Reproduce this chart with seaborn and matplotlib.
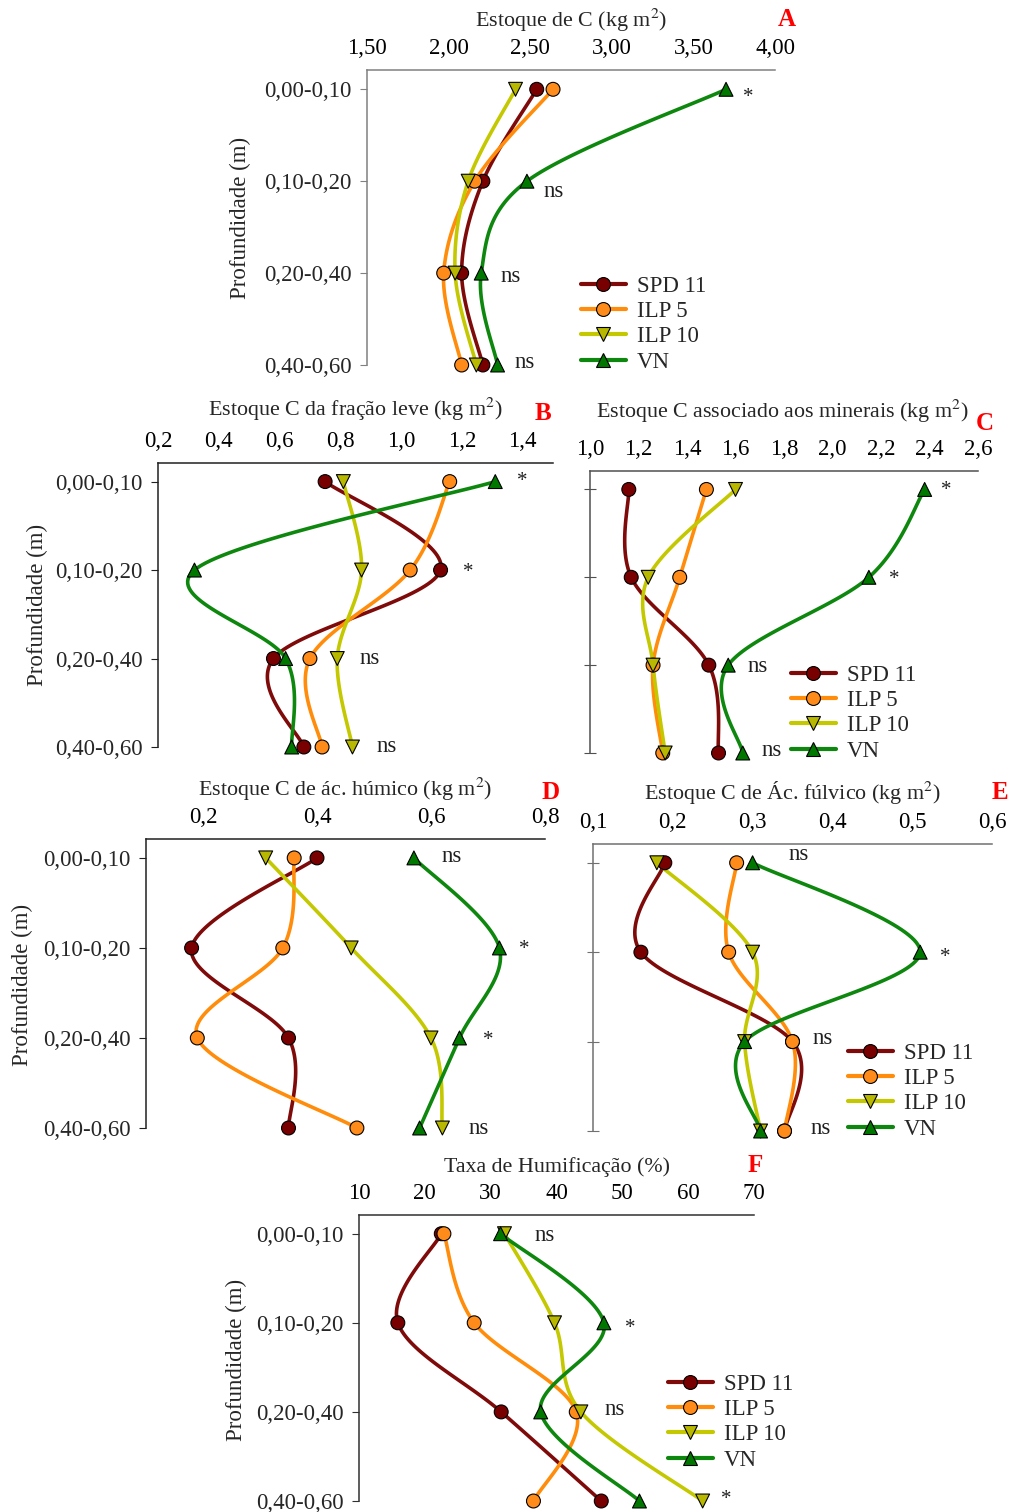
import numpy as np
import pandas as pd
import matplotlib.pyplot as plt
import seaborn as sns
from matplotlib.lines import Line2D

# Depth layers and management systems
depths = ['0,00-0,10', '0,10-0,20', '0,20-0,40', '0,40-0,60']
systems = ['SPD 11', 'ILP 5', 'ILP 10', 'VN']

# Values, one row per system (SPD 11, ILP 5, ILP 10, VN), one column per depth
stock_c = [[2.54, 2.21, 2.08, 2.21],
           [2.64, 2.16, 1.97, 2.08],
           [2.41, 2.12, 2.04, 2.17],
           [3.70, 2.48, 2.20, 2.30]]
light_fraction = [[0.75, 1.13, 0.58, 0.68],
                  [1.16, 1.03, 0.70, 0.74],
                  [0.81, 0.87, 0.79, 0.84],
                  [1.31, 0.32, 0.62, 0.64]]
mineral_c = [[1.16, 1.17, 1.49, 1.53],
             [1.48, 1.37, 1.26, 1.30],
             [1.60, 1.24, 1.26, 1.31],
             [2.38, 2.15, 1.57, 1.63]]
humic_c = [[0.40, 0.18, 0.35, 0.35],
           [0.36, 0.34, 0.19, 0.47],
           [0.31, 0.46, 0.60, 0.62],
           [0.57, 0.72, 0.65, 0.58]]
fulvic_c = [[0.19, 0.16, 0.35, 0.34],
            [0.28, 0.27, 0.35, 0.34],
            [0.18, 0.30, 0.29, 0.31],
            [0.30, 0.51, 0.29, 0.31]]
humification = [[22.5, 15.9, 31.6, 46.8],
                [22.9, 27.5, 43.0, 36.5],
                [32.1, 39.7, 43.7, 62.2],
                [31.5, 47.2, 37.6, 52.6]]

# Significance marks: (panel, system index, depth index, text, dx px, dy px)
sig_marks = [
    ('A', 3, 0, '*', 9, 8), ('A', 3, 1, 'ns', 9, 10), ('A', 3, 2, 'ns', 11, 3), ('A', 3, 3, 'ns', 9, -3),
    ('B', 3, 0, '*', 14, 0), ('B', 0, 1, '*', 14, 2), ('B', 2, 2, 'ns', 14, 0), ('B', 2, 3, 'ns', 16, 0),
    ('C', 3, 0, '*', 8, 1), ('C', 3, 1, '*', 12, 2), ('C', 3, 2, 'ns', 11, 1), ('C', 3, 3, 'ns', 11, -3),
    ('D', 3, 0, 'ns', 20, -1), ('D', 3, 1, '*', 12, 2), ('D', 3, 2, '*', 15, 3), ('D', 2, 3, 'ns', 18, 0),
    ('E', 3, 0, 'ns', 28, -8), ('E', 3, 1, '*', 12, 5), ('E', 1, 2, 'ns', 12, -3), ('E', 1, 3, 'ns', 18, -3),
    ('F', 3, 0, 'ns', 26, 2), ('F', 3, 1, '*', 13, 6), ('F', 2, 2, 'ns', 16, -2), ('F', 2, 3, '*', 10, -1),
]

line_colors = ['#7f0a0a', '#ff8c0a', '#c4c800', '#0e870e']
marker_colors = ['#780000', '#ff8c1a', '#b8b800', '#007800']
marker_shapes = ['o', 'o', 'v', '^']

W, H = 1013, 1512

sns.set_style('ticks')
plt.rcParams['font.family'] = ['Liberation Serif', 'DejaVu Serif']
plt.rcParams['mathtext.fontset'] = 'stix'
plt.rcParams['axes.linewidth'] = 1.1


def rect(x0, y0, x1, y1):
    return [x0 / W, 1 - y1 / H, (x1 - x0) / W, (y1 - y0) / H]


def fpos(x, y):
    return x / W, 1 - y / H


def smooth(ax, xs, ys, n=40):
    # Excel-like smoothed line: Catmull-Rom Bezier in screen space
    pts = ax.transData.transform(np.column_stack([xs, ys]))
    P = np.vstack([pts[0], pts, pts[-1]])
    t = np.linspace(0, 1, n)[:, None]
    segs = []
    for i in range(1, len(P) - 2):
        p0, p1, p2, p3 = P[i - 1], P[i], P[i + 1], P[i + 2]
        c1 = p1 + (p2 - p0) / 6
        c2 = p2 - (p3 - p1) / 6
        segs.append((1 - t) ** 3 * p1 + 3 * (1 - t) ** 2 * t * c1 + 3 * (1 - t) * t ** 2 * c2 + t ** 3 * p2)
    return ax.transData.inverted().transform(np.vstack(segs))


panels = [
    dict(key='A', data=stock_c, box=(367, 70, 775, 365), xlim=(1.5, 4.0), ticks=np.arange(1.5, 4.01, 0.5), fmt='{:.2f}',
         title='Estoque de C (kg m$^{2}$)', tpos=(571, 20), lpos=(787, 20), ylab=(240, 218), ylabels=True,
         legend=(581, 276), spine='#808080'),
    dict(key='B', data=light_fraction, box=(158, 463, 553, 747), xlim=(0.2, 1.5), ticks=np.arange(0.2, 1.41, 0.2), fmt='{:.1f}',
         title='Estoque C da fração leve (kg m$^{2}$)', tpos=(355, 409), lpos=(543, 414), ylab=(37, 605), ylabels=True,
         legend=None, spine='#202020'),
    dict(key='C', data=mineral_c, box=(590, 471, 978, 753), xlim=(1.0, 2.6), ticks=np.arange(1.0, 2.61, 0.2), fmt='{:.1f}',
         title='Estoque C associado aos minerais (kg m$^{2}$)', tpos=(783, 411), lpos=(985, 424), ylab=None, ylabels=False,
         legend=(791, 665), spine='#505050'),
    dict(key='D', data=humic_c, box=(146, 839, 545, 1128), xlim=(0.1, 0.8), ticks=np.arange(0.2, 0.81, 0.2), fmt='{:.1f}',
         title='Estoque C de ác. húmico (kg m$^{2}$)', tpos=(345, 789), lpos=(551, 793), ylab=(22, 985), ylabels=True,
         legend=None, spine='#202020'),
    dict(key='E', data=fulvic_c, box=(593, 844, 992, 1131), xlim=(0.1, 0.6), ticks=np.arange(0.1, 0.61, 0.1), fmt='{:.1f}',
         title='Estoque C de Ác. fúlvico (kg m$^{2}$)', tpos=(792, 792), lpos=(1000, 793), ylab=None, ylabels=False,
         legend=(848, 1043), spine='#707070'),
    dict(key='F', data=humification, box=(359, 1215, 754, 1501), xlim=(10, 70), ticks=np.arange(10, 71, 10), fmt='{:.0f}',
         title='Taxa de Humificação (%)', tpos=(557, 1167), lpos=(755, 1166), ylab=(236, 1360), ylabels=True,
         legend=(668, 1374), spine='#303030'),
]

fig = plt.figure(figsize=(W / 100, H / 100), dpi=100)
fs = 16.5
title_fs = 15.8
ylim = (3, -0.21)

for p in panels:
    ax = fig.add_axes(rect(*p['box']))
    ax.set_xlim(*p['xlim'])
    ax.set_ylim(*ylim)
    pos = np.arange(len(depths))

    # smooth curves
    for i, name in enumerate(systems):
        curve = smooth(ax, p['data'][i], pos)
        sns.lineplot(x=curve[:, 0], y=curve[:, 1], sort=False, estimator=None, ax=ax,
                     color=line_colors[i], lw=2.6, zorder=2)

    # markers
    df = pd.DataFrame({
        'sistema': np.repeat(systems, len(depths)),
        'pos': np.tile(pos, len(systems)),
        'valor': np.ravel(p['data']),
    })
    sns.scatterplot(data=df, x='valor', y='pos', hue='sistema', style='sistema',
                    palette=dict(zip(systems, marker_colors)), markers=dict(zip(systems, marker_shapes)),
                    s=100, edgecolor='black', linewidth=0.8, legend=False, ax=ax, zorder=3)

    ax.set_xlim(*p['xlim'])
    ax.set_ylim(*ylim)
    ax.set_xlabel('')
    ax.set_ylabel('')
    ax.set_xticks(p['ticks'])
    ax.set_xticklabels([p['fmt'].format(v).replace('.', ',') for v in p['ticks']])
    ax.set_yticks(pos)
    ax.set_yticklabels(depths)
    ax.tick_params(axis='x', top=True, bottom=False, labeltop=True, labelbottom=False,
                   direction='in', length=6, pad=8, labelsize=fs, colors='black', color=p['spine'])
    if p['ylabels']:
        ax.tick_params(axis='y', direction='out', length=5, pad=6, labelsize=fs, color=p['spine'])
    else:
        ax.tick_params(axis='y', direction='inout', length=9, labelleft=False, color=p['spine'])
    sns.despine(ax=ax, top=False, right=True, bottom=True, left=False)
    for s in ('top', 'left'):
        ax.spines[s].set_color(p['spine'])
        ax.spines[s].set_clip_on(False)
    ax.patch.set_alpha(0)
    for art in ax.lines + ax.collections:
        art.set_clip_on(False)

    fig.text(*fpos(*p['tpos']), p['title'], ha='center', va='center', fontsize=title_fs)
    fig.text(*fpos(*p['lpos']), p['key'], ha='center', va='center', fontsize=18,
             color='#ff0000', fontweight='bold')
    if p['ylab']:
        fig.text(*fpos(*p['ylab']), 'Profundidade (m)', ha='center', va='center',
                 rotation=90, fontsize=fs)

    for key, si, di, txt, dx, dy in sig_marks:
        if key == p['key']:
            ax.annotate(txt, xy=(p['data'][si][di], di), xytext=(dx + 8, -dy), textcoords='offset pixels',
                        ha='left', va='center', fontsize=fs if txt == 'ns' else 15, color='#202020')

    if p['legend']:
        handles = [Line2D([], [], color=line_colors[i], lw=3.0, marker=marker_shapes[i],
                          markerfacecolor=marker_colors[i], markeredgecolor='black',
                          markeredgewidth=0.8, markersize=10) for i in range(len(systems))]
        fig.legend(handles, systems, loc='upper left', bbox_to_anchor=fpos(*p['legend']),
                   frameon=False, fontsize=fs, handlelength=1.95, handletextpad=0.5,
                   labelspacing=0.18, borderpad=0, borderaxespad=0)

fig.savefig('out.png', dpi=100)
